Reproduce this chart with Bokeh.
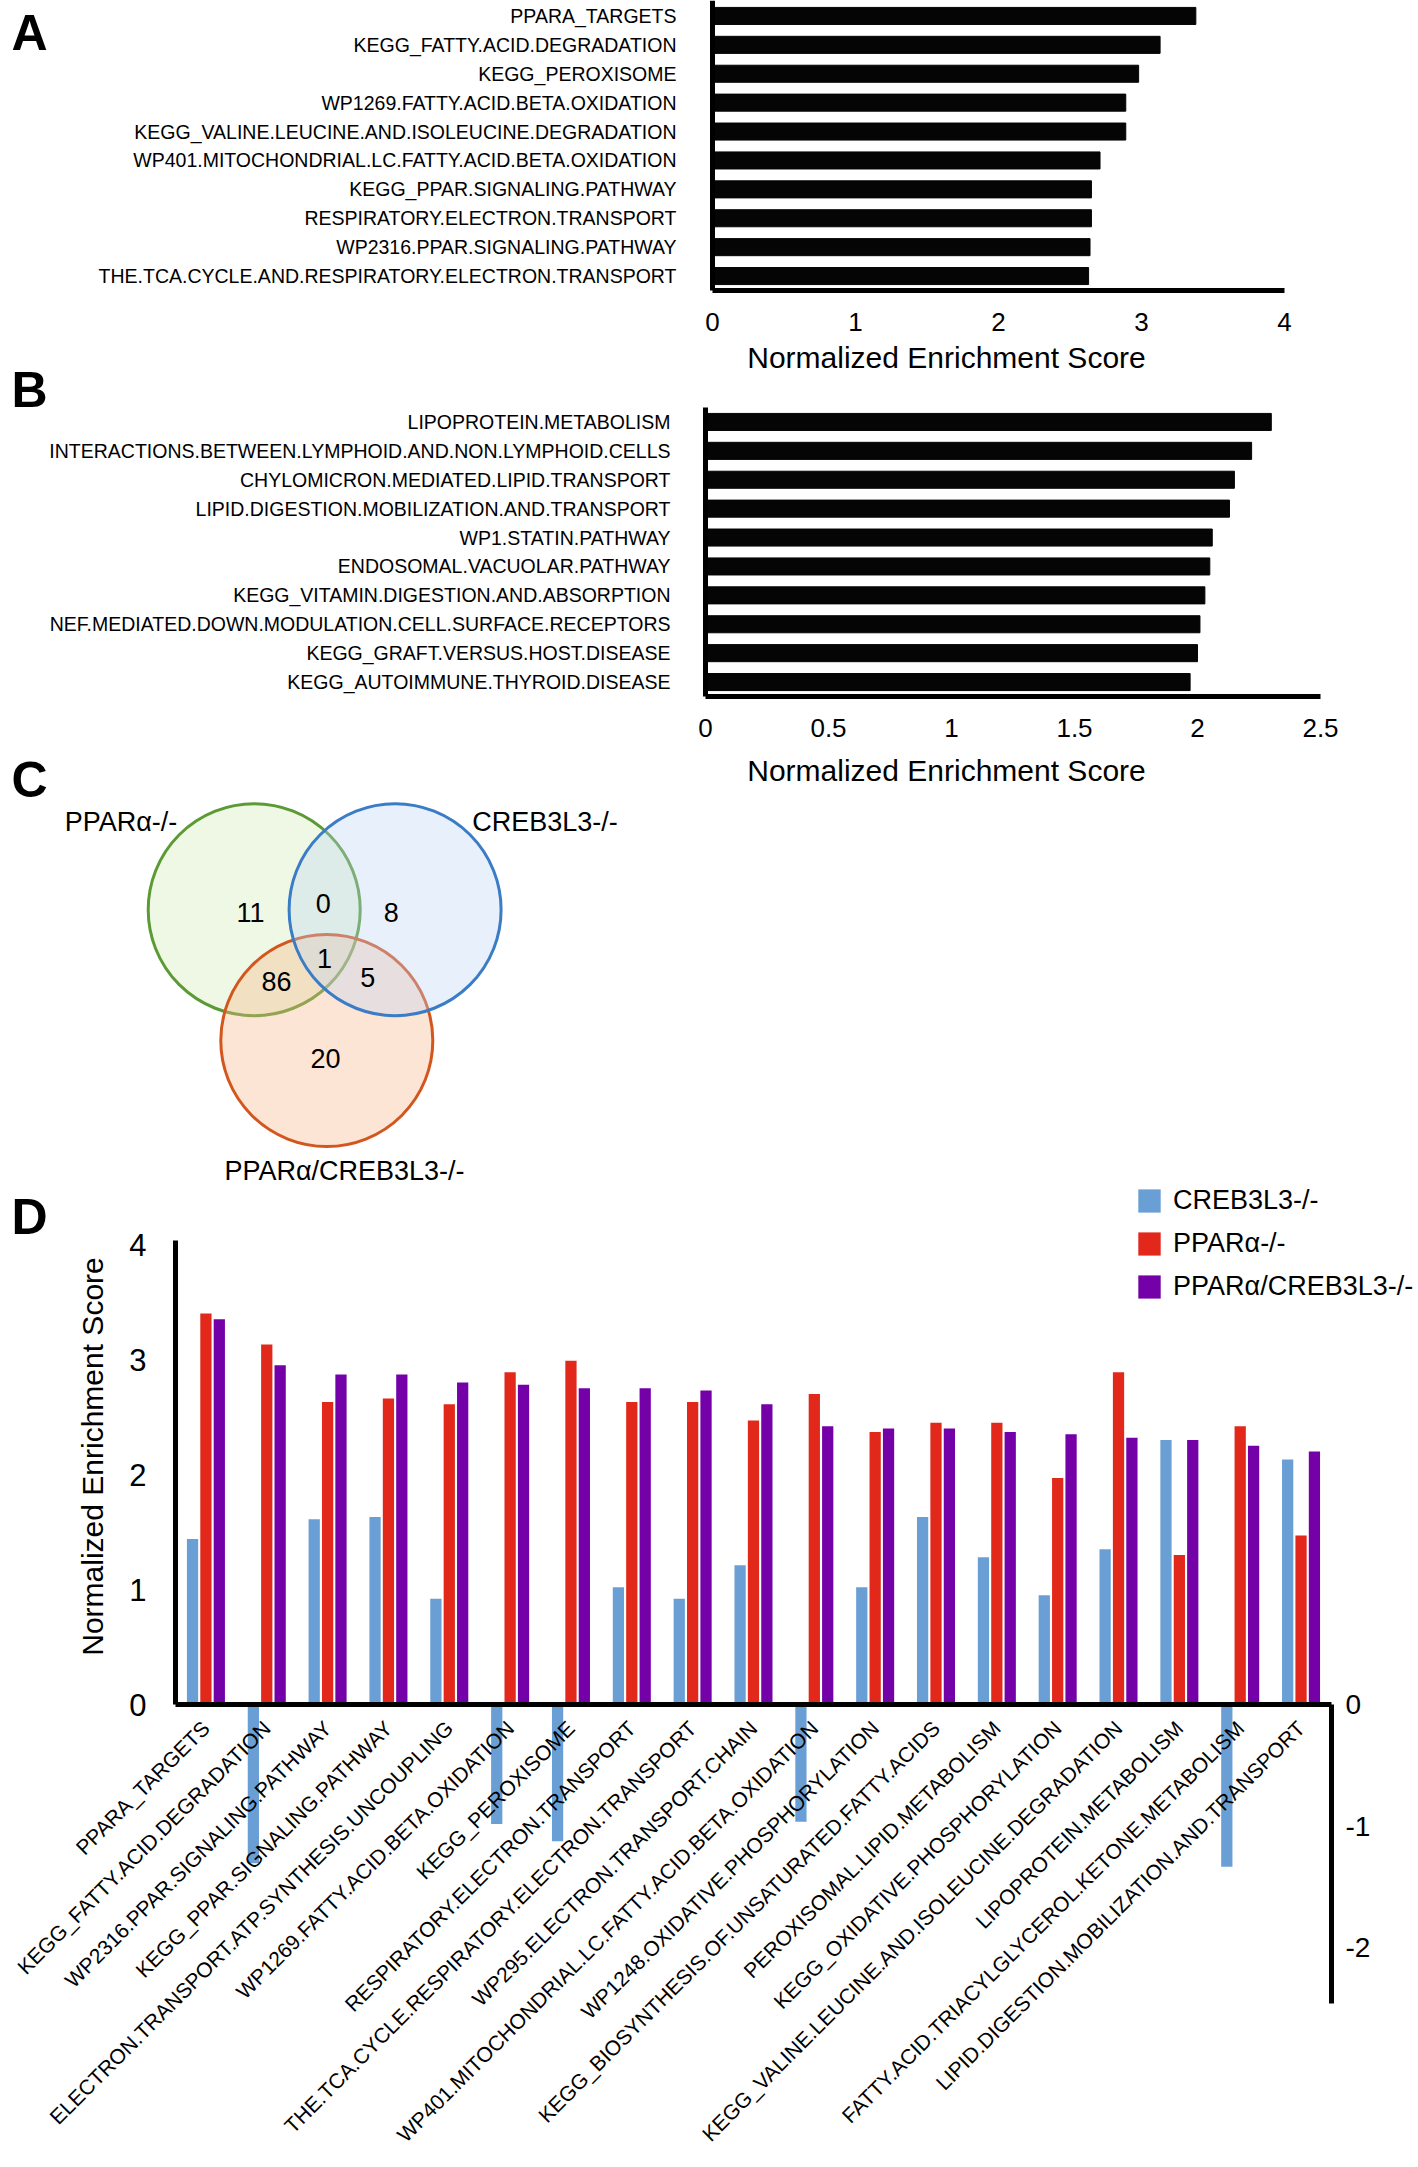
import math
from bokeh.plotting import figure
from bokeh.models import (Range1d, LinearAxis, Label, Legend, LegendItem, FixedTicker,
                          ColumnDataSource)
from bokeh.embed import file_html
from bokeh.resources import INLINE
from bokeh.core.properties import value

FONT = "Liberation Sans"

# ---------------- data ----------------
a_pathways = ["PPARA_TARGETS", "KEGG_FATTY.ACID.DEGRADATION", "KEGG_PEROXISOME",
              "WP1269.FATTY.ACID.BETA.OXIDATION", "KEGG_VALINE.LEUCINE.AND.ISOLEUCINE.DEGRADATION",
              "WP401.MITOCHONDRIAL.LC.FATTY.ACID.BETA.OXIDATION", "KEGG_PPAR.SIGNALING.PATHWAY",
              "RESPIRATORY.ELECTRON.TRANSPORT", "WP2316.PPAR.SIGNALING.PATHWAY",
              "THE.TCA.CYCLE.AND.RESPIRATORY.ELECTRON.TRANSPORT"]
a_nes = [3.38, 3.13, 2.98, 2.89, 2.89, 2.71, 2.65, 2.65, 2.64, 2.63]
a_ticks = [0, 1, 2, 3, 4]

b_pathways = ["LIPOPROTEIN.METABOLISM", "INTERACTIONS.BETWEEN.LYMPHOID.AND.NON.LYMPHOID.CELLS",
              "CHYLOMICRON.MEDIATED.LIPID.TRANSPORT", "LIPID.DIGESTION.MOBILIZATION.AND.TRANSPORT",
              "WP1.STATIN.PATHWAY", "ENDOSOMAL.VACUOLAR.PATHWAY", "KEGG_VITAMIN.DIGESTION.AND.ABSORPTION",
              "NEF.MEDIATED.DOWN.MODULATION.CELL.SURFACE.RECEPTORS", "KEGG_GRAFT.VERSUS.HOST.DISEASE",
              "KEGG_AUTOIMMUNE.THYROID.DISEASE"]
b_nes = [2.30, 2.22, 2.15, 2.13, 2.06, 2.05, 2.03, 2.01, 2.00, 1.97]
b_ticks = [0, 0.5, 1, 1.5, 2, 2.5]

venn_sets = ["PPARα-/-", "CREB3L3-/-", "PPARα/CREB3L3-/-"]
venn_regions = ["PPARα only", "PPARα & CREB3L3", "CREB3L3 only", "all three",
                "PPARα & double", "CREB3L3 & double", "double only"]
venn_counts = [11, 0, 8, 1, 86, 5, 20]

d_pathways = ["PPARA_TARGETS", "KEGG_FATTY.ACID.DEGRADATION", "WP2316.PPAR.SIGNALING.PATHWAY",
              "KEGG_PPAR.SIGNALING.PATHWAY", "ELECTRON.TRANSPORT.ATP.SYNTHESIS.UNCOUPLING",
              "WP1269.FATTY.ACID.BETA.OXIDATION", "KEGG_PEROXISOME", "RESPIRATORY.ELECTRON.TRANSPORT",
              "THE.TCA.CYCLE.RESPIRATORY.ELECTRON.TRANSPORT", "WP295.ELECTRON.TRANSPORT.CHAIN",
              "WP401.MITOCHONDRIAL.LC.FATTY.ACID.BETA.OXIDATION", "WP1248.OXIDATIVE.PHOSPHORYLATION",
              "KEGG_BIOSYNTHESIS.OF.UNSATURATED.FATTY.ACIDS", "PEROXISOMAL.LIPID.METABOLISM",
              "KEGG_OXIDATIVE.PHOSPHORYLATION", "KEGG_VALINE.LEUCINE.AND.ISOLEUCINE.DEGRADATION",
              "LIPOPROTEIN.METABOLISM", "FATTY.ACID.TRIACYLGLYCEROL.KETONE.METABOLISM",
              "LIPID.DIGESTION.MOBILIZATION.AND.TRANSPORT"]
d_creb3l3 = [1.44, -1.38, 1.61, 1.63, 0.92, -1.04, -1.19, 1.02, 0.92, 1.21,
             -1.02, 1.02, 1.63, 1.28, 0.95, 1.35, 2.30, -1.41, 2.13]
d_ppara = [3.40, 3.13, 2.63, 2.66, 2.61, 2.89, 2.99, 2.63, 2.63, 2.47,
           2.70, 2.37, 2.45, 2.45, 1.97, 2.89, 1.30, 2.42, 1.47]
d_double = [3.35, 2.95, 2.87, 2.87, 2.80, 2.78, 2.75, 2.75, 2.73, 2.61,
            2.42, 2.40, 2.40, 2.37, 2.35, 2.32, 2.30, 2.25, 2.20]
d_left_ticks = [0, 1, 2, 3, 4]
d_right_ticks = [-2, -1, 0]
series_names = ["CREB3L3-/-", "PPARα-/-", "PPARα/CREB3L3-/-"]

# ---------------- page geometry (pixels) ----------------
W, H = 1418, 2167
C_BLUE, C_RED, C_PURPLE = "#6a9fd6", "#e1281b", "#7400a8"
LETTER_SHIFT = 21  # observed offset of the alphabetic baseline in the SVG output

# one figure for the whole page; default ranges are page pixels (y downwards)
p = figure(width=W, height=H, x_range=Range1d(0, W), y_range=Range1d(H, 0),
           output_backend="svg", toolbar_location=None,
           x_axis_location=None, y_axis_location=None,
           min_border_left=0, min_border_right=0, min_border_top=0, min_border_bottom=0)
p.outline_line_color = None
p.grid.visible = False
p.background_fill_color = "white"
p.border_fill_color = "white"


def style_axis(ax, size, standoff):
    ax.axis_line_width = 5
    ax.axis_line_color = "black"
    ax.major_tick_line_color = None
    ax.minor_tick_line_color = None
    ax.major_tick_out = 0
    ax.major_tick_in = 0
    ax.major_label_text_font = FONT
    ax.major_label_text_font_size = size
    ax.major_label_text_color = "black"
    ax.major_label_standoff = standoff


def letter(X, Ybase, t):
    p.add_layout(Label(x=X, y=Ybase - LETTER_SHIFT, text=t, text_font=FONT,
                       text_font_style="bold", text_font_size="50px", text_align="left",
                       text_baseline="alphabetic", text_color="black"))


def title(X, Y, t, angle=0.0):
    p.add_layout(Label(x=X, y=Y, text=t, text_font=FONT, text_font_size="30px", angle=angle,
                       text_align="center", text_baseline="middle", text_color="black"))


def hbar_panel(name, x0, xs, y_axis_px, frame_top_px, pitch, names, vals, ticks, label_standoff):
    # panel scale: x = (px - x0)/xs ; y = (ycen0 - py)/pitch, category k at integer k
    n = len(names)
    ycen0 = y_axis_px - pitch / 2.0
    fx = lambda X: (X - x0) / xs
    fy = lambda Y: (ycen0 - Y) / pitch
    p.extra_x_ranges[name] = Range1d(fx(0), fx(W))
    p.extra_y_ranges[name] = Range1d(fy(H), fy(0))
    ypos = [n - 1 - i for i in range(n)]
    p.hbar(y=ypos, left=0, right=vals, height=0.59, color="#050505",
           x_range_name=name, y_range_name=name)
    xa = LinearAxis(x_range_name=name, y_range_name=name, fixed_location=fy(y_axis_px),
                    bounds=(0, ticks[-1]), ticker=FixedTicker(ticks=ticks))
    style_axis(xa, "26px", 22)
    p.add_layout(xa, "below")
    ya = LinearAxis(x_range_name=name, y_range_name=name, fixed_location=0,
                    bounds=(fy(y_axis_px), fy(frame_top_px)),
                    ticker=FixedTicker(ticks=ypos),
                    major_label_overrides={k: nm for k, nm in zip(ypos, names)})
    style_axis(ya, "19.5px", label_standoff)
    p.add_layout(ya, "left")


p.extra_x_ranges = {}
p.extra_y_ranges = {}

# ---------------- panel A ----------------
hbar_panel("A", 712, 143.0, 290, 0, 28.9, a_pathways, a_nes, a_ticks, 36)
letter(11, 53, "A")
title(946, 357, "Normalized Enrichment Score")

# ---------------- panel B ----------------
hbar_panel("B", 705, 246.0, 696, 407, 28.9, b_pathways, b_nes, b_ticks, 35)
letter(11, 410, "B")
title(946, 770, "Normalized Enrichment Score")

# ---------------- panel C (Venn) ----------------
letter(11, 800, "C")
circ = ColumnDataSource(dict(
    x=[253.7, 326.3, 394.6], y=[909.2, 1040.0, 909.2],
    line=["#5b9a35", "#d4561f", "#3a7dc6"], fill=["#d1ebb2", "#f9b587", "#bdd4f4"]))
p.circle(x="x", y="y", radius=106, source=circ, fill_color="fill", fill_alpha=0.35,
         line_color="line", line_width=3)
p.text(x=[250, 322.7, 390.7, 324, 276, 367.3, 325],
       y=[911.7, 903.3, 911.7, 958.3, 981, 976.7, 1058.3],
       text=[str(c) for c in venn_counts], text_font=value(FONT), text_font_size="27px",
       text_align="center", text_baseline="middle", text_color="black")
p.text(x=[120.5, 544.5, 344], y=[821, 821, 1170], text=venn_sets, text_font=value(FONT),
       text_font_size="27px", text_align="center", text_baseline="middle", text_color="black")

# ---------------- panel D ----------------
Y0, UNIT, RUNIT = 1704, 115.0, 121.5
X0, PITCH = 175, 60.84
FT, FB, XR = 1240, 2003, 1331
fxD = lambda X: (X - X0 - PITCH / 2) / PITCH
fyD = lambda Y: (Y0 - Y) / UNIT
fyN = lambda Y: (Y0 - Y) / RUNIT
p.extra_x_ranges["D"] = Range1d(fxD(0), fxD(W))
p.extra_y_ranges["D"] = Range1d(fyD(H), fyD(0))
p.extra_y_ranges["Dneg"] = Range1d(fyN(H), fyN(0))

nD = len(d_pathways)
xpos = list(range(nD))
src = ColumnDataSource(dict(
    xb=[i - 0.22 for i in xpos], xr=list(xpos), xp=[i + 0.22 for i in xpos],
    blue=d_creb3l3, red=d_ppara, purple=d_double))
kw = dict(bottom=0, width=0.185, source=src, line_color=None, x_range_name="D", y_range_name="D")
rb = p.vbar(x="xb", top="blue", fill_color=C_BLUE, **kw)
rr = p.vbar(x="xr", top="red", fill_color=C_RED, **kw)
rp = p.vbar(x="xp", top="purple", fill_color=C_PURPLE, **kw)

yl = LinearAxis(x_range_name="D", y_range_name="D", fixed_location=fxD(X0),
                bounds=(0, fyD(FT)), ticker=FixedTicker(ticks=d_left_ticks))
style_axis(yl, "31px", 29)
p.add_layout(yl, "left")
yr = LinearAxis(x_range_name="D", y_range_name="Dneg", fixed_location=fxD(XR),
                bounds=(fyN(FB), 0), ticker=FixedTicker(ticks=d_right_ticks),
                major_label_overrides={t: str(t) for t in d_right_ticks})
style_axis(yr, "28px", 14)
p.add_layout(yr, "right")
xa = LinearAxis(x_range_name="D", y_range_name="D", fixed_location=0,
                bounds=(fxD(X0), fxD(XR)), ticker=FixedTicker(ticks=xpos),
                major_label_overrides={i: nm for i, nm in zip(xpos, d_pathways)})
style_axis(xa, "21px", 20)
xa.major_label_orientation = math.pi / 4
p.add_layout(xa, "below")

legend = Legend(items=[LegendItem(label=series_names[0], renderers=[rb]),
                       LegendItem(label=series_names[1], renderers=[rr]),
                       LegendItem(label=series_names[2], renderers=[rp])],
                location=(1135, H - 1301.5), orientation="vertical")
legend.glyph_width = 28
legend.glyph_height = 29
legend.label_standoff = 10
legend.spacing = 12
legend.padding = 0
legend.margin = 0
legend.border_line_color = None
legend.background_fill_alpha = 0
legend.label_text_font = FONT
legend.label_text_font_size = "27px"
legend.label_text_color = "black"
p.add_layout(legend)

letter(11, 1237, "D")
title(92, 1456, "Normalized Enrichment Score", angle=math.pi / 2)

open("out.html", "w").write(file_html(p, INLINE))
